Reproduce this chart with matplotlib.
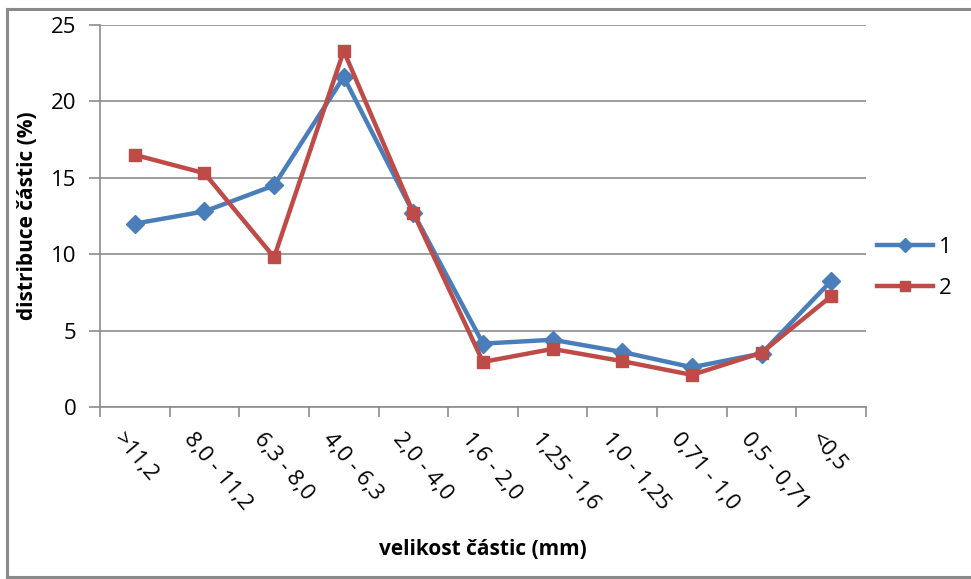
import matplotlib
matplotlib.use("Agg")
from matplotlib import pyplot as plt
from matplotlib.lines import Line2D
from matplotlib.transforms import ScaledTranslation
import numpy as np

plt.rcParams['font.family'] = ['Open Sans', 'DejaVu Sans']

categories = ['>11,2', '8,0 - 11,2', '6,3 - 8,0', '4,0 - 6,3', '2,0 - 4,0', '1,6 - 2,0',
              '1,25 - 1,6', '1,0 - 1,25', '0,71 - 1,0', '0,5 - 0,71', '<0,5']
series1 = [12.0, 12.8, 14.5, 21.6, 12.7, 4.15, 4.4, 3.6, 2.6, 3.5, 8.25]
series2 = [16.5, 15.3, 9.8, 23.3, 12.7, 2.95, 3.8, 3.0, 2.1, 3.55, 7.25]
series_names = ['1', '2']

blue = '#4A7EBB'
red = '#BE4B48'
grid_col = '#8C8C8C'

fig = plt.figure(figsize=(9.71, 5.79), dpi=100)
ax = fig.add_axes([100 / 971, 1 - 407 / 579, 766 / 971, 382 / 579])

# outer chart frame (right edge is off the canvas)
frame_kw = dict(transform=fig.transFigure, color='#8A8A8A', lw=2.2)
fig.add_artist(Line2D([7 / 971, 7 / 971], [1 - 9 / 579, 1 - 577 / 579], **frame_kw))
fig.add_artist(Line2D([7 / 971, 1.0], [1 - 9 / 579, 1 - 9 / 579], **frame_kw))
fig.add_artist(Line2D([7 / 971, 1.0], [1 - 577 / 579, 1 - 577 / 579], **frame_kw))

x = np.arange(len(categories))
ax.plot(x, series1, color=blue, lw=3.2, marker='D', ms=9, mec=blue, mfc=blue,
        label=series_names[0], zorder=3)
ax.plot(x, series2, color=red, lw=3.2, marker='s', ms=8.8, mec=red, mfc=red,
        label=series_names[1], zorder=4)

ax.set_xlim(-0.5, len(categories) - 0.5)
ax.set_ylim(0, 25)
ax.set_yticks(np.arange(0, 26, 5))
ax.yaxis.grid(True, color=grid_col, lw=1.2)
ax.set_axisbelow(True)

for side in ['top', 'right']:
    ax.spines[side].set_visible(False)
for side in ['left', 'bottom']:
    ax.spines[side].set_color(grid_col)
    ax.spines[side].set_linewidth(1.2)

# ticks on category boundaries, labels under centres
ax.set_xticks(np.arange(len(categories) + 1) - 0.5)
ax.set_xticklabels([])
ax.set_xticks(x, minor=True)
ax.set_xticklabels(categories, minor=True, rotation=-50, ha='left', va='top',
                   rotation_mode='anchor', fontsize=16)
ax.tick_params(axis='x', which='minor', length=0, pad=0)
ax.tick_params(axis='x', which='major', length=7, width=1.2, color=grid_col, direction='out')
ax.tick_params(axis='y', length=8, width=1.2, color=grid_col, labelsize=16, pad=9)
shift = ScaledTranslation(-9 / 100, -22 / 100, fig.dpi_scale_trans)
for lab in ax.get_xticklabels(minor=True):
    lab.set_transform(lab.get_transform() + shift)

ax.set_ylabel('distribuce částic (%)', fontsize=15, fontweight='bold', labelpad=9)
ax.set_xlabel('velikost částic (mm)', fontsize=15, fontweight='bold')
ax.xaxis.set_label_coords(0.5, -0.345)

ax.legend(loc='center left', bbox_to_anchor=(1.0, 0.365), frameon=False, fontsize=16,
          handlelength=2.5, markerscale=0.75, labelspacing=0.9, handletextpad=0.3,
          borderaxespad=0.1)

plt.savefig('out.png', dpi=100)
